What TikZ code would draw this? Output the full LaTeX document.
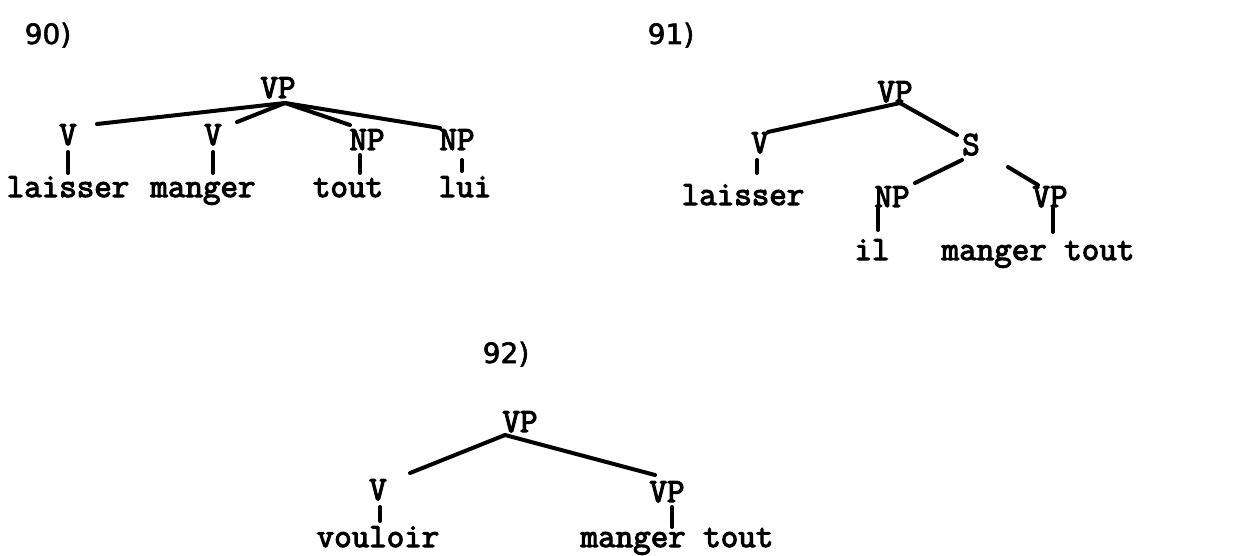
\documentclass[tikz,border=0pt]{standalone}
\usepackage{fontspec}
\newfontfamily\labfont{DejaVu Sans}[FakeBold=2]
\newfontfamily\twfont{Latin Modern Mono}[FakeBold=3.4]
\begin{document}
\begin{tikzpicture}[x=1pt,y=-1pt,
  lbl/.style={font=\twfont\fontsize{34}{40}\selectfont, inner sep=0pt, anchor=base},
  num/.style={font=\labfont\fontsize{28}{32}\selectfont, inner sep=0pt, anchor=base},
  branch/.style={line width=4pt, line cap=round},
  tick/.style={line width=4pt, line cap=round}]
\useasboundingbox (0,0) rectangle (1252,556);
% ---------- 90 ----------
\node[num] (n90) at (48,44) {90)};
\node[lbl] (vp90) at (278,98) {VP};
\node[lbl] (v90a) at (68,145) {V};
\node[lbl] (v90b) at (213,145) {V};
\node[lbl] (np90a) at (367,150) {NP};
\node[lbl] (np90b) at (457,150) {NP};
\node[lbl] (w90a) at (68,197) {laisser};
\node[lbl] (w90b) at (203,197) {manger};
\node[lbl] (w90c) at (348,197) {tout};
\node[lbl] (w90d) at (465,197) {lui};
\coordinate (a90) at (285,103);
\coordinate (e90a) at (97,124);
\coordinate (e90b) at (237,122);
\coordinate (e90c) at (350,125);
\coordinate (e90d) at (440,128);
\draw[branch] (a90) -- (e90a);
\draw[branch] (a90) -- (e90b);
\draw[branch] (a90) -- (e90c);
\draw[branch] (a90) -- (e90d);
\coordinate (t90a1) at (68,152); \coordinate (t90a2) at (68,173);
\coordinate (t90b1) at (213,152); \coordinate (t90b2) at (213,173);
\coordinate (t90c1) at (360,155); \coordinate (t90c2) at (360,173);
\coordinate (t90d1) at (462,160); \coordinate (t90d2) at (462,171);
\draw[tick] (t90a1) -- (t90a2);
\draw[tick] (t90b1) -- (t90b2);
\draw[tick] (t90c1) -- (t90c2);
\draw[tick] (t90d1) -- (t90d2);
% ---------- 91 ----------
\node[num] (n91) at (671,44) {91)};
\node[lbl] (vp91) at (895,102) {VP};
\node[lbl] (v91) at (760,153) {V};
\node[lbl] (s91) at (971,155) {S};
\node[lbl] (np91) at (892,207) {NP};
\node[lbl] (vp91b) at (1050,207) {VP};
\node[lbl] (w91a) at (743,205) {laisser};
\node[lbl] (w91b) at (872,260) {il};
\node[lbl] (w91c) at (1038,260) {manger tout};
\coordinate (a91) at (900,103);
\coordinate (e91a) at (768,132);
\coordinate (e91b) at (957,135);
\coordinate (s91l) at (962,160);
\coordinate (e91c) at (915,183);
\coordinate (s91r) at (1008,167);
\coordinate (e91d) at (1038,185);
\draw[branch] (a91) -- (e91a);
\draw[branch] (a91) -- (e91b);
\draw[branch] (s91l) -- (e91c);
\draw[branch] (s91r) -- (e91d);
\coordinate (t91a1) at (757,160); \coordinate (t91a2) at (757,173);
\coordinate (t91b1) at (878,208); \coordinate (t91b2) at (878,230);
\coordinate (t91c1) at (1053,208); \coordinate (t91c2) at (1053,232);
\draw[tick] (t91a1) -- (t91a2);
\draw[tick] (t91b1) -- (t91b2);
\draw[tick] (t91c1) -- (t91c2);
% ---------- 92 ----------
\node[num] (n92) at (506,363) {92)};
\node[lbl] (vp92) at (520,432) {VP};
\node[lbl] (v92) at (378,500) {V};
\node[lbl] (vp92b) at (667,502) {VP};
\node[lbl] (w92a) at (378,547) {vouloir};
\node[lbl] (w92b) at (677,547) {manger tout};
\coordinate (a92) at (505,435);
\coordinate (e92a) at (410,473);
\coordinate (e92b) at (655,475);
\draw[branch] (a92) -- (e92a);
\draw[branch] (a92) -- (e92b);
\coordinate (t92a1) at (380,507); \coordinate (t92a2) at (380,521);
\coordinate (t92b1) at (672,507); \coordinate (t92b2) at (672,527);
\draw[tick] (t92a1) -- (t92a2);
\draw[tick] (t92b1) -- (t92b2);
\end{tikzpicture}
\end{document}
